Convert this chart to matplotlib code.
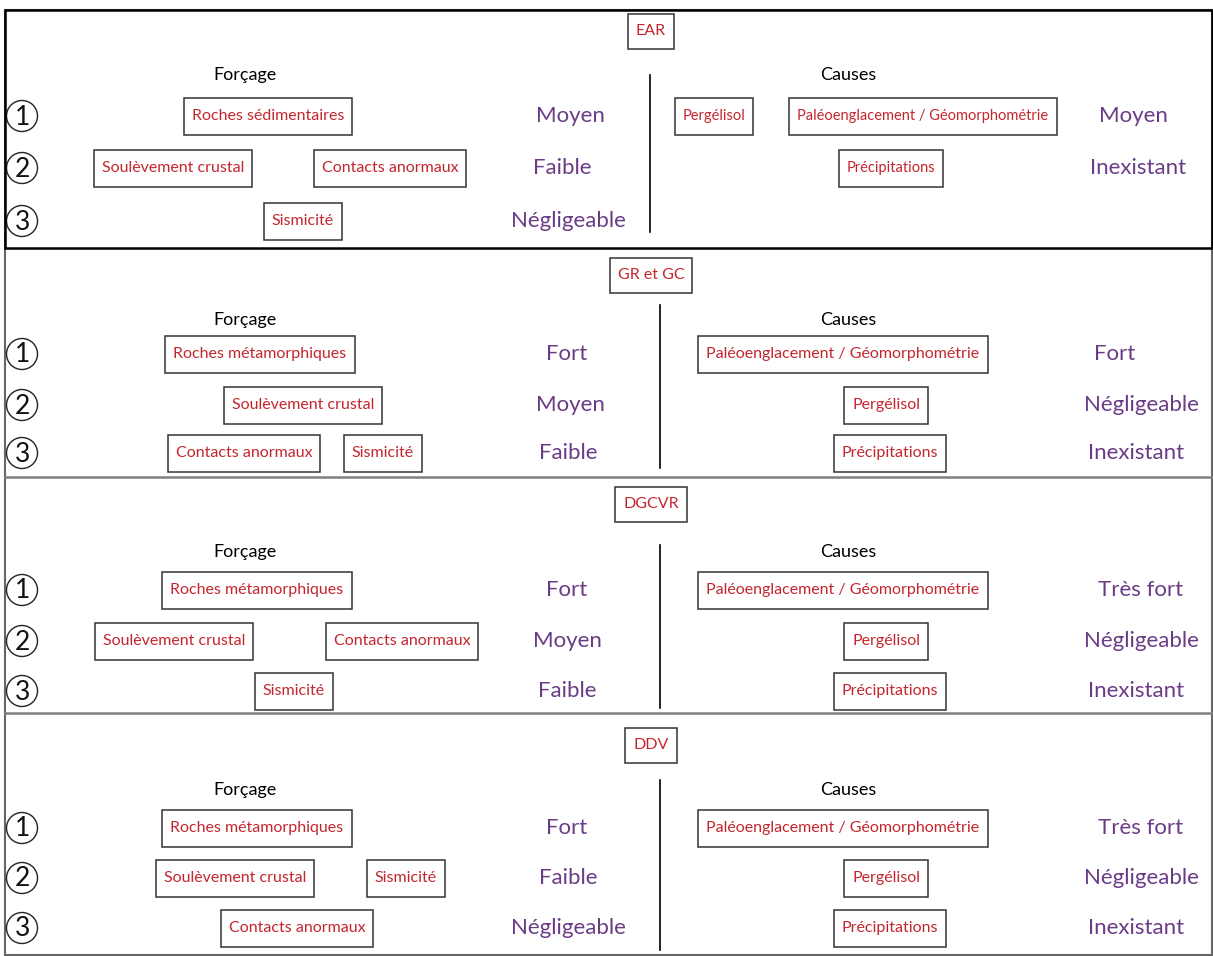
import matplotlib
matplotlib.use("Agg")
import matplotlib.pyplot as plt
from matplotlib.patches import Circle, Rectangle

plt.rcParams['font.family'] = ['Lato', 'DejaVu Sans']

# ---- content ----
panel_names = ["EAR", "GR et GC", "DGCVR", "DDV"]

forcage_rows = [
    [["Roches sédimentaires"], ["Soulèvement crustal", "Contacts anormaux"], ["Sismicité"]],
    [["Roches métamorphiques"], ["Soulèvement crustal"], ["Contacts anormaux", "Sismicité"]],
    [["Roches métamorphiques"], ["Soulèvement crustal", "Contacts anormaux"], ["Sismicité"]],
    [["Roches métamorphiques"], ["Soulèvement crustal", "Sismicité"], ["Contacts anormaux"]],
]
forcage_levels = [
    ["Moyen", "Faible", "Négligeable"],
    ["Fort", "Moyen", "Faible"],
    ["Fort", "Moyen", "Faible"],
    ["Fort", "Faible", "Négligeable"],
]
causes_rows = [
    [["Pergélisol", "Paléoenglacement / Géomorphométrie"], ["Précipitations"], []],
    [["Paléoenglacement / Géomorphométrie"], ["Pergélisol"], ["Précipitations"]],
    [["Paléoenglacement / Géomorphométrie"], ["Pergélisol"], ["Précipitations"]],
    [["Paléoenglacement / Géomorphométrie"], ["Pergélisol"], ["Précipitations"]],
]
causes_levels = [
    ["Moyen", "Inexistant", ""],
    ["Fort", "Négligeable", "Inexistant"],
    ["Très fort", "Négligeable", "Inexistant"],
    ["Très fort", "Négligeable", "Inexistant"],
]

# ---- layout (pixels) ----
panel_top = [10, 248, 477, 713]
title_y = [31, 275, 504, 745]
header_y = [75, 320, 552, 790]
row_y = [[116, 168, 221], [354, 405, 453], [590, 641, 691], [828, 878, 928]]
divider = [(650, 75, 232), (660, 305, 468), (660, 545, 708), (660, 780, 950)]
forc_box_x = [
    [[268], [173, 390], [303]],
    [[260], [303], [244, 383]],
    [[257], [174, 402], [294]],
    [[257], [235, 406], [297]],
]
caus_box_x = [
    [[714, 923], [891], []],
    [[843], [886], [890]],
    [[843], [886], [890]],
    [[843], [886], [890]],
]
forc_level_x = [[570, 562, 568], [567, 570, 568], [567, 567, 567], [567, 568, 568]]
caus_level_x = [[1133, 1138, 0], [1115, 1141, 1136], [1141, 1141, 1136], [1141, 1141, 1136]]

RED = "#c4262e"
PURPLE = "#6a3c86"
BOX_H = 37
PAD_X = 8

fig = plt.figure(figsize=(12.13, 9.56), dpi=100)
ax = fig.add_axes([0, 0, 1, 1])
ax.set_xlim(0, 1213)
ax.set_ylim(956, 0)
ax.axis("off")

# outer frame and separators
ax.add_patch(Rectangle((5, 10), 1207, 945, fill=False, ec="#666666", lw=1.5))
for y in panel_top[2:]:
    ax.plot([5, 1212], [y, y], color="#808080", lw=1.8)
ax.add_patch(Rectangle((5, 10), 1207, 238, fill=False, ec="black", lw=1.8, zorder=3))

boxed_texts = []


def boxed(x, y, s, size=11.5):
    t = ax.text(x, y, s, ha="center", va="center", color=RED, fontsize=size, zorder=4)
    boxed_texts.append(t)


for p in range(4):
    boxed(651, title_y[p], panel_names[p])
    ax.text(245, header_y[p], "Forçage", ha="center", va="center", fontsize=13, color="black")
    ax.text(848, header_y[p], "Causes", ha="center", va="center", fontsize=13, color="black")
    dx, y0, y1 = divider[p]
    ax.plot([dx, dx], [y0, y1], color="black", lw=1.2)
    for r in range(3):
        y = row_y[p][r]
        ax.add_patch(Circle((22, y), 15.5, fill=False, ec="#222222", lw=1.0))
        ax.text(22.5, y + 1, str(r + 1), ha="center", va="center", fontsize=19,
                color="#111111")
        for lab, x in zip(forcage_rows[p][r], forc_box_x[p][r]):
            boxed(x, y, lab)
        ax.text(forc_level_x[p][r], y, forcage_levels[p][r], ha="center", va="center",
                fontsize=16, color=PURPLE)
        for lab, x in zip(causes_rows[p][r], caus_box_x[p][r]):
            boxed(x, y, lab, size=10.5 if p == 0 else 11.5)
        if causes_levels[p][r]:
            ax.text(caus_level_x[p][r], y, causes_levels[p][r], ha="center", va="center",
                    fontsize=16, color=PURPLE)

# boxes sized from the rendered text
fig.canvas.draw()
renderer = fig.canvas.get_renderer()
inv = ax.transData.inverted()
for t in boxed_texts:
    bb = t.get_window_extent(renderer)
    (x0, _), (x1, _) = inv.transform([(bb.x0, bb.y0), (bb.x1, bb.y1)])
    x0, x1 = min(x0, x1), max(x0, x1)
    yc = t.get_position()[1]
    h = BOX_H if t.get_text() not in panel_names else 35
    ax.add_patch(Rectangle((x0 - PAD_X, yc - h / 2), x1 - x0 + 2 * PAD_X, h,
                           fill=False, ec="#333333", lw=1.1, zorder=4))

fig.savefig("out.png", dpi=100, facecolor="white")
